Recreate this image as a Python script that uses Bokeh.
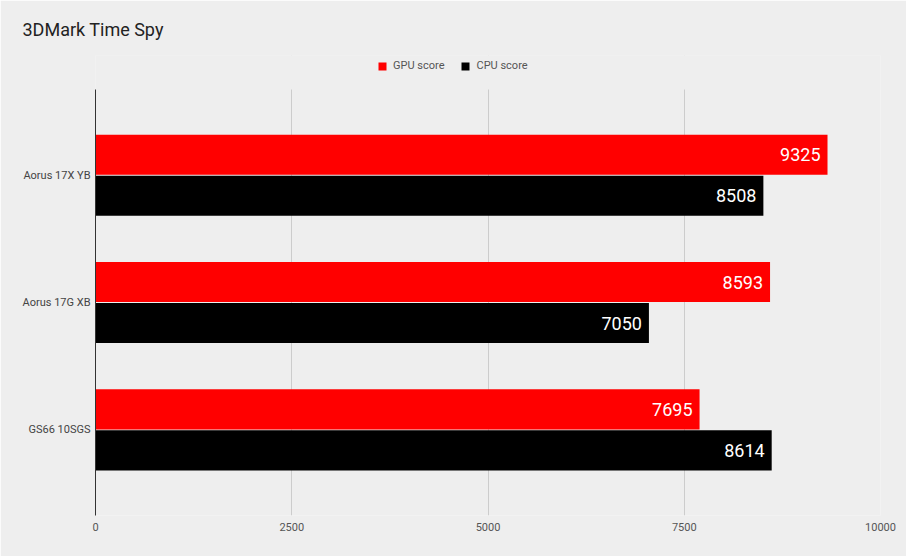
from bokeh.plotting import figure
from bokeh.models import (ColumnDataSource, Range1d, Legend, LegendItem, FixedTicker,
                          BoxAnnotation)
from bokeh.transform import dodge
from bokeh.embed import file_html
from bokeh.resources import INLINE
from bokeh.core.properties import value

title_text = "3DMark Time Spy"
laptops = ["Aorus 17X YB", "Aorus 17G XB", "GS66 10SGS"]
gpu_scores = [9325, 8593, 7695]
cpu_scores = [8508, 7050, 8614]
series_names = ["GPU score", "CPU score"]
series_colors = ["#ff0000", "#000000"]
x_ticks = [0, 2500, 5000, 7500, 10000]

n = len(laptops)
y_pos = [n - 1 - i for i in range(n)]          # first laptop on top
source = ColumnDataSource(data=dict(
    laptop=laptops,
    y=y_pos,
    gpu=gpu_scores,
    cpu=cpu_scores,
    gpu_txt=[str(v) for v in gpu_scores],
    cpu_txt=[str(v) for v in cpu_scores],
))

BG = "#eeeeee"
PAD = 0.673          # padding (in category units) below the last / above the first category
TOP_EXTRA = 0.268    # extra room above the plot area for the legend
Y_END = n - 1 + PAD + TOP_EXTRA

p = figure(
    width=906, height=556,
    y_range=Range1d(-PAD, Y_END),
    x_range=Range1d(0, 10000),
    output_backend="svg", toolbar_location=None,
    min_border_left=95, min_border_right=26, min_border_top=0, min_border_bottom=41,
)
p.background_fill_color = BG
p.border_fill_color = BG
p.outline_line_color = None

# title
p.title.text = title_text
p.title.text_font = "Roboto"
p.title.text_font_size = "18px"
p.title.text_font_style = "normal"
p.title.text_color = "#222222"
p.title.offset = -73
p.title.standoff = 32

# hide grid lines above the plot area
p.add_layout(BoxAnnotation(bottom=n - 1 + PAD, top=Y_END + 1, fill_color=BG, fill_alpha=1.0,
                           line_color=None, line_alpha=0, line_width=0, level="underlay"))

off = 0.161
h = 0.315
r_gpu = p.hbar(y=dodge("y", off), right="gpu", left=0, height=h,
               source=source, fill_color=series_colors[0], line_color=None)
r_cpu = p.hbar(y=dodge("y", -off), right="cpu", left=0, height=h,
               source=source, fill_color=series_colors[1], line_color=None)

for col, txt, d in (("gpu", "gpu_txt", off), ("cpu", "cpu_txt", -off)):
    p.text(x=col, y=dodge("y", d), text=txt, source=source,
           x_offset=-7, text_align="right", text_baseline="middle",
           text_color="#ffffff", text_font=value("Roboto"), text_font_size="18px")

# legend inside the (extended) frame, above the bars
legend = Legend(items=[LegendItem(label=series_names[0], renderers=[r_gpu]),
                       LegendItem(label=series_names[1], renderers=[r_cpu])],
                orientation="horizontal", location=(282, 443))
legend.label_text_font = "Roboto"
legend.label_text_font_size = "11px"
legend.label_text_color = "#555555"
legend.glyph_width = 10
legend.glyph_height = 10
legend.label_standoff = 6
legend.spacing = 16
legend.padding = 0
legend.margin = 0
legend.background_fill_alpha = 0
legend.border_line_color = None
p.add_layout(legend)

# axes
p.xaxis.ticker = FixedTicker(ticks=x_ticks)
p.xaxis.axis_line_color = None
p.xaxis.major_tick_line_color = None
p.xaxis.major_tick_out = 0
p.xaxis.minor_tick_line_color = None
p.xaxis.major_label_text_font = "Roboto"
p.xaxis.major_label_text_font_size = "11px"
p.xaxis.major_label_text_color = "#555555"
p.xaxis.major_label_standoff = 7

p.yaxis.ticker = FixedTicker(ticks=y_pos)
p.yaxis.major_label_overrides = {y: name for y, name in zip(y_pos, laptops)}
p.yaxis.bounds = (-PAD, n - 1 + PAD)
p.yaxis.axis_line_color = "#333333"
p.yaxis.major_tick_line_color = None
p.yaxis.major_tick_out = 0
p.yaxis.minor_tick_line_color = None
p.yaxis.major_label_text_font = "Roboto"
p.yaxis.major_label_text_font_size = "11px"
p.yaxis.major_label_text_color = "#444444"
p.yaxis.major_label_standoff = 5

p.ygrid.grid_line_color = None
p.xgrid.grid_line_color = "#cccccc"
p.xgrid.ticker = FixedTicker(ticks=x_ticks)

open("out.html", "w").write(file_html(p, INLINE))
